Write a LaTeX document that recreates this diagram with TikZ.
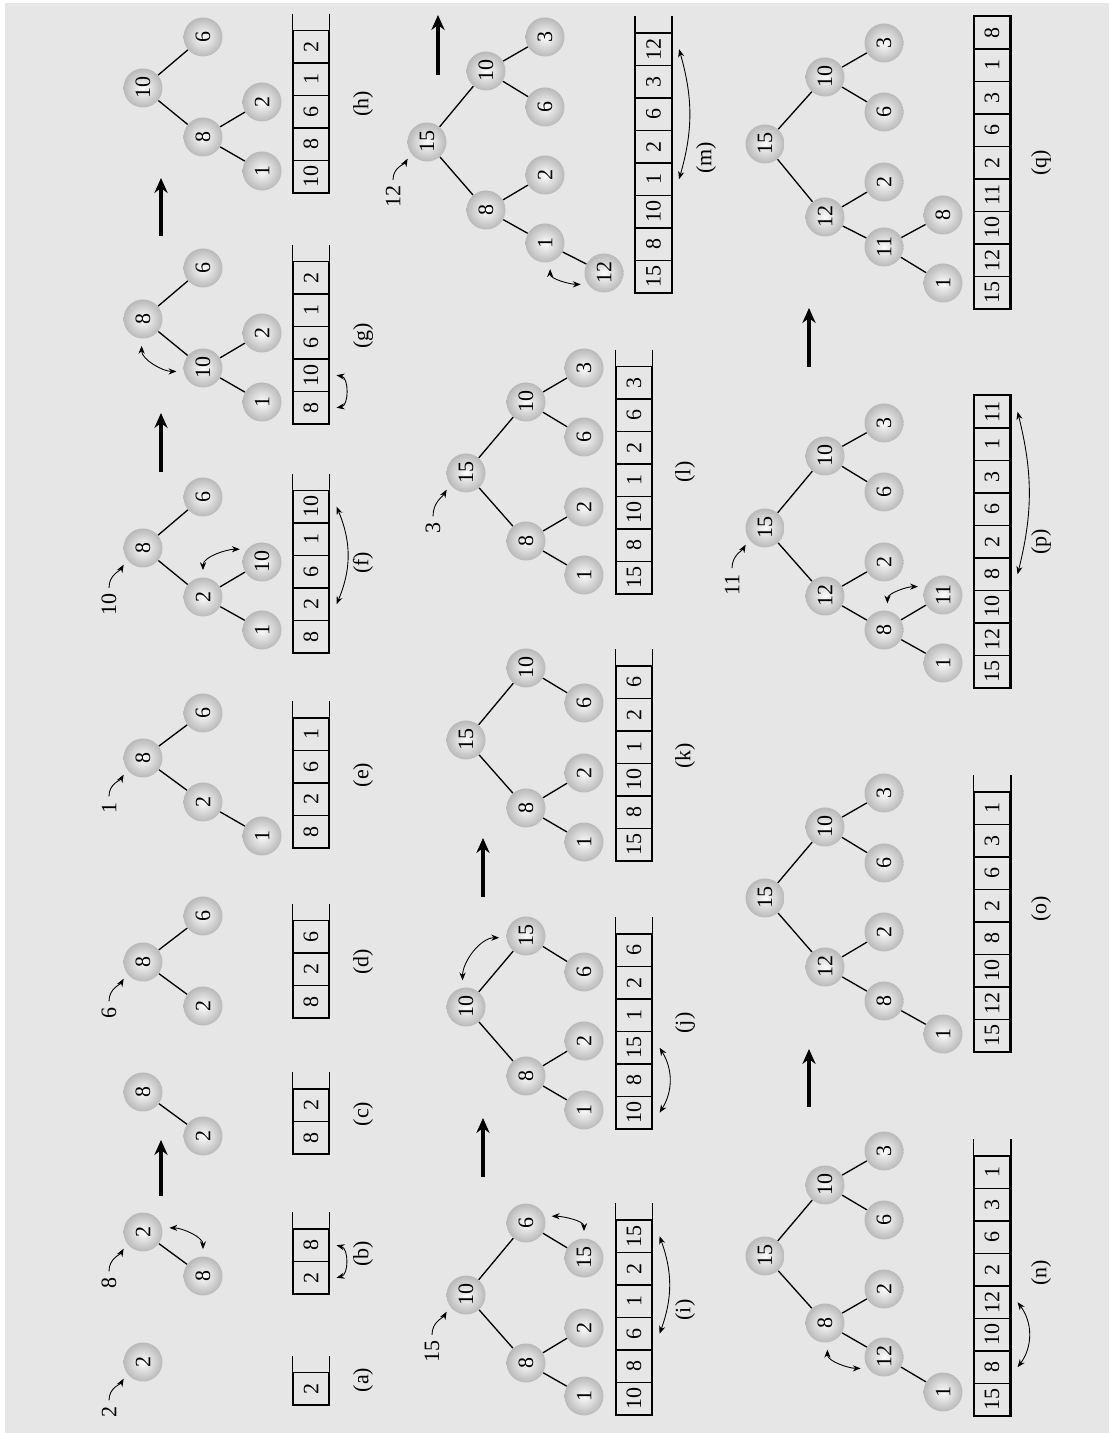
\documentclass[tikz,border=0pt]{standalone}
\usepackage{fontspec}
\setmainfont{Liberation Serif}
\usetikzlibrary{arrows.meta}
\definecolor{panelgray}{RGB}{230,230,230}
\tikzset{
  ball/.style={circle,minimum size=0.78cm,inner sep=0pt,shading=radial,inner color=gray!2,outer color=gray!55},
  cell/.style={draw,line width=0.6pt,minimum width=0.65cm,minimum height=0.72cm,inner sep=0pt},
  frame/.style={line width=1.1pt},
  edge/.style={line width=0.75pt},
  ins/.style={-{Stealth[length=4.5pt,width=3.5pt]},line width=0.5pt,shorten >=3.5pt},
  xchg/.style={{Stealth[length=4.5pt,width=3.5pt]}-{Stealth[length=4.5pt,width=3.5pt]},line width=0.5pt},
  xchgnode/.style={xchg,shorten <=4pt,shorten >=4pt},
  bigarrow/.style={-{Stealth[length=8.5pt,width=7.5pt]},line width=1.9pt},
}
\begin{document}
\begin{tikzpicture}[x=0.02cm,y=0.02cm,rotate=90,transform shape,font=\fontsize{12.5}{14}\selectfont]
  \useasboundingbox (0,-1109) rectangle (1433,0);
  \fill[panelgray] (0,-1109) rectangle (1430,-5);

  % (a)
  \node[ball] (a1) at (71,-143) {2};
  \node (new-a) at (21,-109) {2};
  \draw[ins] (new-a) to[out=0,in=150] (a1.125);
  \node[cell] (a-1) at (44.25,-311) {2};
  \draw[frame] (a-1.north east) ++(16,0) -- (a-1.north west) -- (a-1.south west) -- (a-1.south east) -- ++(16,0);
  \node (lab-a) at (53,-363) {(a)};

  % (b)
  \node[ball] (b1) at (201,-143) {2};
  \node[ball] (b2) at (157,-203) {8};
  \draw[edge] (b1) -- (b2);
  \node (new-b) at (150,-109) {8};
  \draw[ins] (new-b) to[out=0,in=150] (b1.125);
  \draw[xchgnode] (b1.-78) to[out=-90,in=0] (b2.0);
  \foreach \v [count=\i] in {2,8} \node[cell] (b-\i) at ({122.75+32.5*\i},-311) {\v};
  \draw[frame] (b-2.north east) ++(16,0) -- (b-1.north west) -- (b-1.south west) -- (b-2.south east) -- ++(16,0);
  \draw[xchg] ([yshift=-4pt]b-1.south) to[bend right=75] ([yshift=-4pt]b-2.south);
  \node (lab-b) at (179,-363) {(b)};

  \coordinate (bc0) at (237,-161);
  \coordinate (bc1) at (293,-161);
  \draw[bigarrow] (bc0) -- (bc1);

  % (c)
  \node[ball] (c1) at (341,-143) {8};
  \node[ball] (c2) at (297,-203) {2};
  \draw[edge] (c1) -- (c2);
  \foreach \v [count=\i] in {8,2} \node[cell] (c-\i) at ({262.75+32.5*\i},-311) {\v};
  \draw[frame] (c-2.north east) ++(16,0) -- (c-1.north west) -- (c-1.south west) -- (c-2.south east) -- ++(16,0);
  \node (lab-c) at (319,-363) {(c)};

  % (d)
  \node[ball] (d1) at (471,-143) {8};
  \node[ball] (d2) at (427,-203) {2};
  \node[ball] (d3) at (517,-203) {6};
  \draw[edge] (d1) -- (d2) (d1) -- (d3);
  \node (new-d) at (420,-109) {6};
  \draw[ins] (new-d) to[out=0,in=150] (d1.125);
  \foreach \v [count=\i] in {8,2,6} \node[cell] (d-\i) at ({398.75+32.5*\i},-311) {\v};
  \draw[frame] (d-3.north east) ++(16,0) -- (d-1.north west) -- (d-1.south west) -- (d-3.south east) -- ++(16,0);
  \node (lab-d) at (471,-363) {(d)};

  % (e)
  \node[ball] (e1) at (675,-143) {8};
  \node[ball] (e2) at (631,-203) {2};
  \node[ball] (e3) at (720,-203) {6};
  \node[ball] (e4) at (597,-262) {1};
  \draw[edge] (e1) -- (e2) (e1) -- (e3) (e2) -- (e4);
  \node (new-e) at (625,-109) {1};
  \draw[ins] (new-e) to[out=0,in=150] (e1.125);
  \foreach \v [count=\i] in {8,2,6,1} \node[cell] (e-\i) at ({568.75+32.5*\i},-311) {\v};
  \draw[frame] (e-4.north east) ++(16,0) -- (e-1.north west) -- (e-1.south west) -- (e-4.south east) -- ++(16,0);
  \node (lab-e) at (658,-363) {(e)};

  % (f)
  \node[ball] (f1) at (885,-143) {8};
  \node[ball] (f2) at (836,-203) {2};
  \node[ball] (f3) at (936,-203) {6};
  \node[ball] (f4) at (803,-262) {1};
  \node[ball] (f5) at (871,-262) {10};
  \draw[edge] (f1) -- (f2) (f1) -- (f3) (f2) -- (f4) (f2) -- (f5);
  \node (new-f) at (828,-109) {10};
  \draw[ins] (new-f) to[out=0,in=150] (f1.125);
  \draw[xchgnode] (f2.0) to[out=0,in=90] (f5.50);
  \foreach \v [count=\i] in {8,2,6,1,10} \node[cell] (f-\i) at ({763.75+32.5*\i},-311) {\v};
  \draw[frame] (f-5.north east) ++(16,0) -- (f-1.north west) -- (f-1.south west) -- (f-5.south east) -- ++(16,0);
  \draw[xchg] ([yshift=-4pt]f-2.south) to[bend right=23] ([yshift=-4pt]f-5.south);
  \node (lab-f) at (870,-363) {(f)};

  \coordinate (fg0) at (961,-161);
  \coordinate (fg1) at (1020,-161);
  \draw[bigarrow] (fg0) -- (fg1);

  % (g)
  \node[ball] (g1) at (1114,-143) {8};
  \node[ball] (g2) at (1065,-203) {10};
  \node[ball] (g3) at (1165,-203) {6};
  \node[ball] (g4) at (1031,-262) {1};
  \node[ball] (g5) at (1100,-262) {2};
  \draw[edge] (g1) -- (g2) (g1) -- (g3) (g2) -- (g4) (g2) -- (g5);
  \draw[xchgnode] (g1.176) to[out=180,in=90] (g2.100);
  \foreach \v [count=\i] in {8,10,6,1,2} \node[cell] (g-\i) at ({992.75+32.5*\i},-311) {\v};
  \draw[frame] (g-5.north east) ++(16,0) -- (g-1.north west) -- (g-1.south west) -- (g-5.south east) -- ++(16,0);
  \draw[xchg] ([yshift=-4pt]g-1.south) to[bend right=80] ([yshift=-4pt]g-2.south);
  \node (lab-g) at (1097,-363) {(g)};

  \coordinate (gh0) at (1197,-161);
  \coordinate (gh1) at (1255,-161);
  \draw[bigarrow] (gh0) -- (gh1);

  % (h)
  \node[ball] (h1) at (1345,-143) {10};
  \node[ball] (h2) at (1296,-203) {8};
  \node[ball] (h3) at (1396,-203) {6};
  \node[ball] (h4) at (1262,-262) {1};
  \node[ball] (h5) at (1331,-262) {2};
  \draw[edge] (h1) -- (h2) (h1) -- (h3) (h2) -- (h4) (h2) -- (h5);
  \foreach \v [count=\i] in {10,8,6,1,2} \node[cell] (h-\i) at ({1223.75+32.5*\i},-311) {\v};
  \draw[frame] (h-5.north east) ++(16,0) -- (h-1.north west) -- (h-1.south west) -- (h-5.south east) -- ++(16,0);
  \node (lab-h) at (1329,-363) {(h)};

  % (i)
  \node[ball] (i1) at (138,-466) {10};
  \node[ball] (i2) at (70,-526) {8};
  \node[ball] (i3) at (210,-526) {6};
  \node[ball] (i4) at (37,-584) {1};
  \node[ball] (i5) at (105,-584) {2};
  \node[ball] (i6) at (175,-584) {15};
  \draw[edge] (i1) -- (i2) (i1) -- (i3) (i2) -- (i4) (i2) -- (i5) (i3) -- (i6);
  \node (new-i) at (81,-432) {15};
  \draw[ins] (new-i) to[out=0,in=150] (i1.125);
  \draw[xchgnode] (i3.-70) to[out=-90,in=0] (i6.0);
  \foreach \v [count=\i] in {10,8,6,1,2,15} \node[cell] (i-\i) at ({1.75+32.5*\i},-634) {\v};
  \draw[frame] (i-6.north east) ++(16,0) -- (i-1.north west) -- (i-1.south west) -- (i-6.south east) -- ++(16,0);
  \draw[xchg] ([yshift=-4pt]i-3.south) to[bend right=20] ([yshift=-4pt]i-6.south);
  \node (lab-i) at (123,-685) {(i)};

  \coordinate (ij0) at (256,-483);
  \coordinate (ij1) at (315,-483);
  \draw[bigarrow] (ij0) -- (ij1);

  % (j)
  \node[ball] (j1) at (426,-466) {10};
  \node[ball] (j2) at (357,-526) {8};
  \node[ball] (j3) at (497,-526) {15};
  \node[ball] (j4) at (323,-584) {1};
  \node[ball] (j5) at (392,-584) {2};
  \node[ball] (j6) at (461,-584) {6};
  \draw[edge] (j1) -- (j2) (j1) -- (j3) (j2) -- (j4) (j2) -- (j5) (j3) -- (j6);
  \draw[xchgnode] (j1.10) to[out=0,in=90] (j3.95);
  \foreach \v [count=\i] in {10,8,15,1,2,6} \node[cell] (j-\i) at ({287.75+32.5*\i},-634) {\v};
  \draw[frame] (j-6.north east) ++(16,0) -- (j-1.north west) -- (j-1.south west) -- (j-6.south east) -- ++(16,0);
  \draw[xchg] ([yshift=-4pt]j-1.south) to[bend right=32] ([yshift=-4pt]j-3.south);
  \node (lab-j) at (410,-685) {(j)};

  \coordinate (jk0) at (536,-483);
  \coordinate (jk1) at (595,-483);
  \draw[bigarrow] (jk0) -- (jk1);

  % (k)
  \node[ball] (k1) at (693,-466) {15};
  \node[ball] (k2) at (625,-526) {8};
  \node[ball] (k3) at (765,-526) {10};
  \node[ball] (k4) at (591,-584) {1};
  \node[ball] (k5) at (660,-584) {2};
  \node[ball] (k6) at (730,-584) {6};
  \draw[edge] (k1) -- (k2) (k1) -- (k3) (k2) -- (k4) (k2) -- (k5) (k3) -- (k6);
  \foreach \v [count=\i] in {15,8,10,1,2,6} \node[cell] (k-\i) at ({555.75+32.5*\i},-634) {\v};
  \draw[frame] (k-6.north east) ++(16,0) -- (k-1.north west) -- (k-1.south west) -- (k-6.south east) -- ++(16,0);
  \node (lab-k) at (677,-685) {(k)};

  % (l)
  \node[ball] (l1) at (960,-466) {15};
  \node[ball] (l2) at (892,-526) {8};
  \node[ball] (l3) at (1031,-526) {10};
  \node[ball] (l4) at (858,-584) {1};
  \node[ball] (l5) at (926,-584) {2};
  \node[ball] (l6) at (996,-584) {6};
  \node[ball] (l7) at (1065,-584) {3};
  \draw[edge] (l1) -- (l2) (l1) -- (l3) (l2) -- (l4) (l2) -- (l5) (l3) -- (l6) (l3) -- (l7);
  \node (new-l) at (905,-433) {3};
  \draw[ins] (new-l) to[out=0,in=150] (l1.125);
  \foreach \v [count=\i] in {15,8,10,1,2,6,3} \node[cell] (l-\i) at ({822.75+32.5*\i},-634) {\v};
  \draw[frame] (l-7.north east) ++(16,0) -- (l-1.north west) -- (l-1.south west) -- (l-7.south east) -- ++(16,0);
  \node (lab-l) at (961,-685) {(l)};

  % (m)
  \node[ball] (m1) at (1291,-427) {15};
  \node[ball] (m2) at (1223,-486) {8};
  \node[ball] (m3) at (1362,-486) {10};
  \node[ball] (m4) at (1190,-545) {1};
  \node[ball] (m5) at (1258,-545) {2};
  \node[ball] (m6) at (1326,-545) {6};
  \node[ball] (m7) at (1396,-545) {3};
  \node[ball] (m8) at (1160,-604) {12};
  \draw[edge] (m1) -- (m2) (m1) -- (m3) (m2) -- (m4) (m2) -- (m5) (m3) -- (m6) (m3) -- (m7) (m4) -- (m8);
  \node (new-m) at (1236,-393) {12};
  \draw[ins] (new-m) to[out=0,in=150] (m1.125);
  \draw[xchgnode] (m4.195) to[out=180,in=90] (m8.125);
  \foreach \v [count=\i] in {15,8,10,1,2,6,3,12} \node[cell] (m-\i) at ({1123.75+32.5*\i},-653.5) {\v};
  \draw[frame] (m-8.north east) ++(16,0) -- (m-1.north west) -- (m-1.south west) -- (m-8.south east) -- ++(16,0);
  \draw[xchg] ([yshift=-4pt]m-4.south) to[bend right=16] ([yshift=-4pt]m-8.south);
  \node (lab-m) at (1275,-706) {(m)};

  \coordinate (mn0) at (1358,-438);
  \coordinate (mn1) at (1418,-438);
  \draw[bigarrow] (mn0) -- (mn1);

  % (n)
  \node[ball] (n1) at (177,-765) {15};
  \node[ball] (n2) at (110,-825) {8};
  \node[ball] (n3) at (248,-825) {10};
  \node[ball] (n4) at (76,-884) {12};
  \node[ball] (n5) at (144,-884) {2};
  \node[ball] (n6) at (213,-884) {6};
  \node[ball] (n7) at (282,-884) {3};
  \node[ball] (n8) at (41,-943) {1};
  \draw[edge] (n1) -- (n2) (n1) -- (n3) (n2) -- (n4) (n2) -- (n5) (n3) -- (n6) (n3) -- (n7) (n4) -- (n8);
  \draw[xchgnode] (n2.187) to[out=180,in=90] (n4.125);
  \foreach \v [count=\i] in {15,8,10,12,2,6,3,1} \node[cell] (n-\i) at ({0.75+32.5*\i},-992) {\v};
  \draw[frame] (n-8.north east) ++(16,0) -- (n-1.north west) -- (n-1.south west) -- (n-8.south east) -- ++(16,0);
  \draw[xchg] ([yshift=-4pt]n-2.south) to[bend right=37] ([yshift=-4pt]n-4.south);
  \node (lab-n) at (160,-1041) {(n)};

  \coordinate (no0) at (326,-809);
  \coordinate (no1) at (384,-809);
  \draw[bigarrow] (no0) -- (no1);

  % (o)
  \node[ball] (o1) at (535,-765) {15};
  \node[ball] (o2) at (466,-825) {12};
  \node[ball] (o3) at (606,-825) {10};
  \node[ball] (o4) at (432,-884) {8};
  \node[ball] (o5) at (501,-884) {2};
  \node[ball] (o6) at (570,-884) {6};
  \node[ball] (o7) at (640,-884) {3};
  \node[ball] (o8) at (399,-943) {1};
  \draw[edge] (o1) -- (o2) (o1) -- (o3) (o2) -- (o4) (o2) -- (o5) (o3) -- (o6) (o3) -- (o7) (o4) -- (o8);
  \foreach \v [count=\i] in {15,12,10,8,2,6,3,1} \node[cell] (o-\i) at ({364.75+32.5*\i},-992) {\v};
  \draw[frame] (o-8.north east) ++(16,0) -- (o-1.north west) -- (o-1.south west) -- (o-8.south east) -- ++(16,0);
  \node (lab-o) at (524,-1041) {(o)};

  % (p)
  \node[ball] (p1) at (905,-765) {15};
  \node[ball] (p2) at (837,-825) {12};
  \node[ball] (p3) at (977,-825) {10};
  \node[ball] (p4) at (803,-884) {8};
  \node[ball] (p5) at (871,-884) {2};
  \node[ball] (p6) at (941,-884) {6};
  \node[ball] (p7) at (1010,-884) {3};
  \node[ball] (p8) at (770,-943) {1};
  \node[ball] (p9) at (838,-943) {11};
  \draw[edge] (p1) -- (p2) (p1) -- (p3) (p2) -- (p4) (p2) -- (p5) (p3) -- (p6) (p3) -- (p7) (p4) -- (p8) (p4) -- (p9);
  \node (new-p) at (848,-732) {11};
  \draw[ins] (new-p) to[out=0,in=150] (p1.125);
  \draw[xchgnode] (p4.-10) to[out=0,in=90] (p9.65);
  \foreach \v [count=\i] in {15,12,10,8,2,6,3,1,11} \node[cell] (p-\i) at ({728.75+32.5*\i},-992) {\v};
  \draw[frame] (p-1.north west) rectangle (p-9.south east);
  \draw[xchg] ([yshift=-4pt]p-4.south) to[bend right=14] ([yshift=-4pt]p-9.south);
  \node (lab-p) at (891,-1041) {(p)};

  \coordinate (pq0) at (1066,-809);
  \coordinate (pq1) at (1125,-809);
  \draw[bigarrow] (pq0) -- (pq1);

  % (q)
  \node[ball] (q1) at (1289,-765) {15};
  \node[ball] (q2) at (1216,-825) {12};
  \node[ball] (q3) at (1356,-825) {10};
  \node[ball] (q4) at (1186,-884) {11};
  \node[ball] (q5) at (1251,-884) {2};
  \node[ball] (q6) at (1321,-884) {6};
  \node[ball] (q7) at (1390,-884) {3};
  \node[ball] (q8) at (1150,-943) {1};
  \node[ball] (q9) at (1218,-943) {8};
  \draw[edge] (q1) -- (q2) (q1) -- (q3) (q2) -- (q4) (q2) -- (q5) (q3) -- (q6) (q3) -- (q7) (q4) -- (q8) (q4) -- (q9);
  \foreach \v [count=\i] in {15,12,10,11,2,6,3,1,8} \node[cell] (q-\i) at ({1107.75+32.5*\i},-992) {\v};
  \draw[frame] (q-1.north west) rectangle (q-9.south east);
  \node (lab-q) at (1270,-1041) {(q)};
\end{tikzpicture}
\end{document}
